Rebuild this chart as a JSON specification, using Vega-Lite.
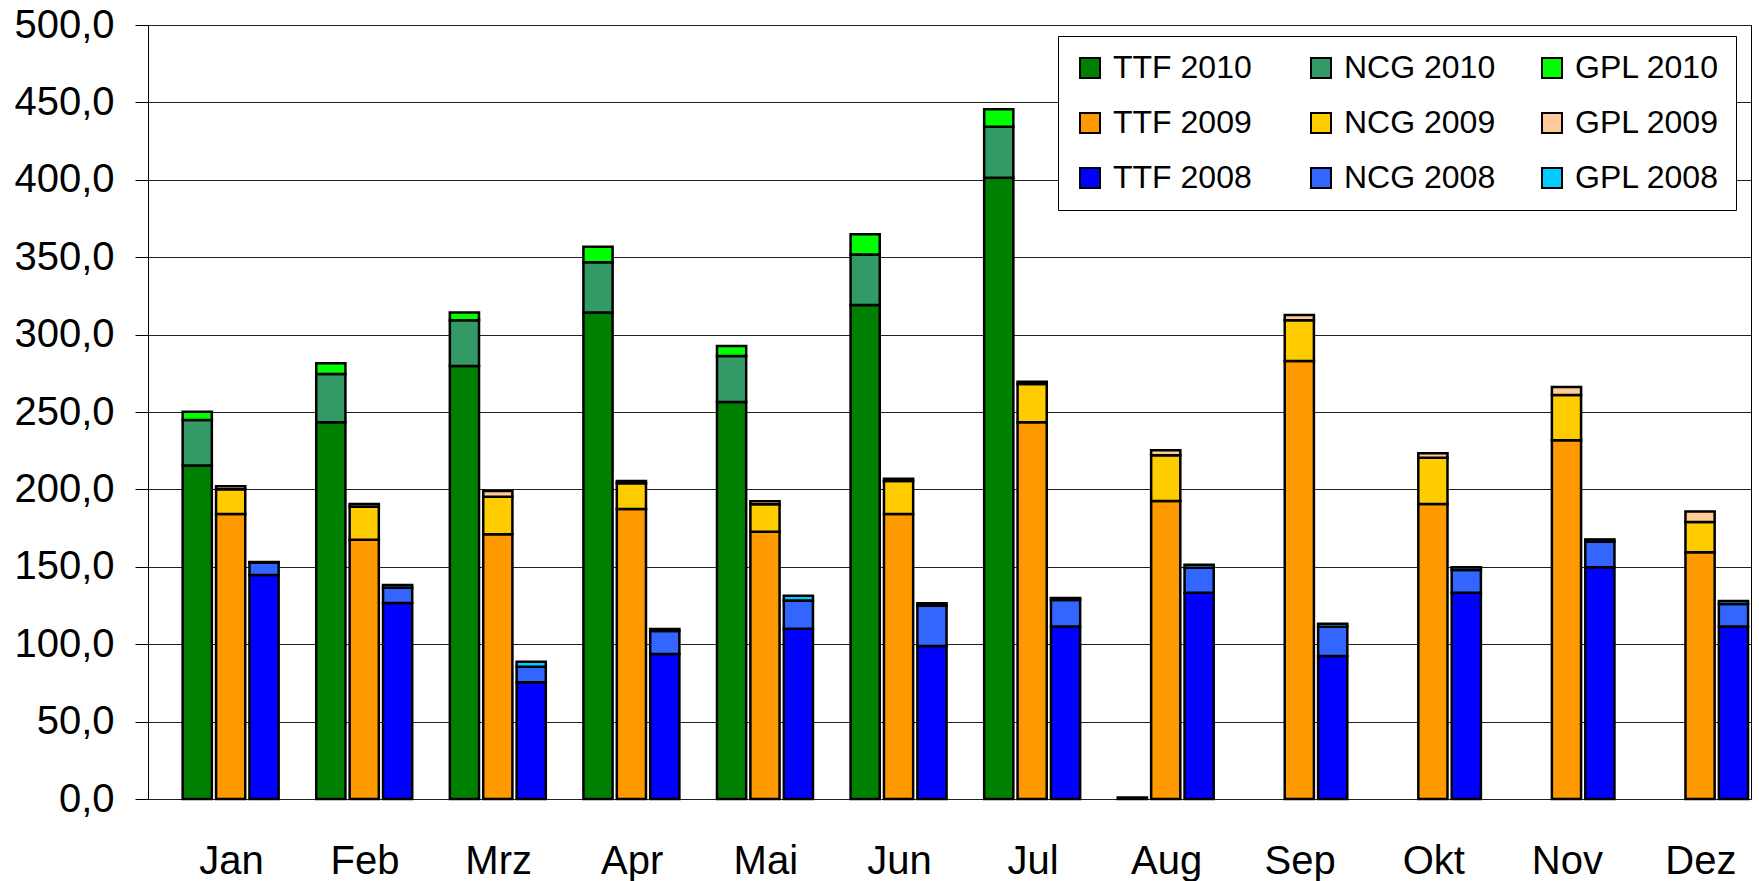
{
  "$schema": "https://vega.github.io/schema/vega-lite/v6.json",
  "width": 1603,
  "height": 774,
  "autosize": {"type": "none"},
  "padding": {"left": 148, "top": 25, "right": 8, "bottom": 82},
  "background": "#ffffff",
  "data": {"values": [
    {"month": "Jan", "year": "2010", "hub": "TTF", "series": "TTF 2010", "value": 215.5},
    {"month": "Jan", "year": "2010", "hub": "NCG", "series": "NCG 2010", "value": 29.3},
    {"month": "Jan", "year": "2010", "hub": "GPL", "series": "GPL 2010", "value": 5.4},
    {"month": "Jan", "year": "2009", "hub": "TTF", "series": "TTF 2009", "value": 184.1},
    {"month": "Jan", "year": "2009", "hub": "NCG", "series": "NCG 2009", "value": 16.0},
    {"month": "Jan", "year": "2009", "hub": "GPL", "series": "GPL 2009", "value": 1.9},
    {"month": "Jan", "year": "2008", "hub": "TTF", "series": "TTF 2008", "value": 144.7},
    {"month": "Jan", "year": "2008", "hub": "NCG", "series": "NCG 2008", "value": 8.0},
    {"month": "Jan", "year": "2008", "hub": "GPL", "series": "GPL 2008", "value": 0.4},
    {"month": "Feb", "year": "2010", "hub": "TTF", "series": "TTF 2010", "value": 243.3},
    {"month": "Feb", "year": "2010", "hub": "NCG", "series": "NCG 2010", "value": 31.2},
    {"month": "Feb", "year": "2010", "hub": "GPL", "series": "GPL 2010", "value": 7.0},
    {"month": "Feb", "year": "2009", "hub": "TTF", "series": "TTF 2009", "value": 167.5},
    {"month": "Feb", "year": "2009", "hub": "NCG", "series": "NCG 2009", "value": 21.3},
    {"month": "Feb", "year": "2009", "hub": "GPL", "series": "GPL 2009", "value": 1.8},
    {"month": "Feb", "year": "2008", "hub": "TTF", "series": "TTF 2008", "value": 126.6},
    {"month": "Feb", "year": "2008", "hub": "NCG", "series": "NCG 2008", "value": 9.9},
    {"month": "Feb", "year": "2008", "hub": "GPL", "series": "GPL 2008", "value": 1.7},
    {"month": "Mrz", "year": "2010", "hub": "TTF", "series": "TTF 2010", "value": 279.7},
    {"month": "Mrz", "year": "2010", "hub": "NCG", "series": "NCG 2010", "value": 29.5},
    {"month": "Mrz", "year": "2010", "hub": "GPL", "series": "GPL 2010", "value": 5.0},
    {"month": "Mrz", "year": "2009", "hub": "TTF", "series": "TTF 2009", "value": 171.0},
    {"month": "Mrz", "year": "2009", "hub": "NCG", "series": "NCG 2009", "value": 24.3},
    {"month": "Mrz", "year": "2009", "hub": "GPL", "series": "GPL 2009", "value": 3.7},
    {"month": "Mrz", "year": "2008", "hub": "TTF", "series": "TTF 2008", "value": 75.4},
    {"month": "Mrz", "year": "2008", "hub": "NCG", "series": "NCG 2008", "value": 10.1},
    {"month": "Mrz", "year": "2008", "hub": "GPL", "series": "GPL 2008", "value": 3.2},
    {"month": "Apr", "year": "2010", "hub": "TTF", "series": "TTF 2010", "value": 314.2},
    {"month": "Apr", "year": "2010", "hub": "NCG", "series": "NCG 2010", "value": 32.5},
    {"month": "Apr", "year": "2010", "hub": "GPL", "series": "GPL 2010", "value": 10.1},
    {"month": "Apr", "year": "2009", "hub": "TTF", "series": "TTF 2009", "value": 187.3},
    {"month": "Apr", "year": "2009", "hub": "NCG", "series": "NCG 2009", "value": 16.6},
    {"month": "Apr", "year": "2009", "hub": "GPL", "series": "GPL 2009", "value": 1.5},
    {"month": "Apr", "year": "2008", "hub": "TTF", "series": "TTF 2008", "value": 93.7},
    {"month": "Apr", "year": "2008", "hub": "NCG", "series": "NCG 2008", "value": 14.8},
    {"month": "Apr", "year": "2008", "hub": "GPL", "series": "GPL 2008", "value": 1.3},
    {"month": "Mai", "year": "2010", "hub": "TTF", "series": "TTF 2010", "value": 256.4},
    {"month": "Mai", "year": "2010", "hub": "NCG", "series": "NCG 2010", "value": 29.8},
    {"month": "Mai", "year": "2010", "hub": "GPL", "series": "GPL 2010", "value": 6.4},
    {"month": "Mai", "year": "2009", "hub": "TTF", "series": "TTF 2009", "value": 172.7},
    {"month": "Mai", "year": "2009", "hub": "NCG", "series": "NCG 2009", "value": 17.7},
    {"month": "Mai", "year": "2009", "hub": "GPL", "series": "GPL 2009", "value": 1.9},
    {"month": "Mai", "year": "2008", "hub": "TTF", "series": "TTF 2008", "value": 110.0},
    {"month": "Mai", "year": "2008", "hub": "NCG", "series": "NCG 2008", "value": 18.3},
    {"month": "Mai", "year": "2008", "hub": "GPL", "series": "GPL 2008", "value": 3.0},
    {"month": "Jun", "year": "2010", "hub": "TTF", "series": "TTF 2010", "value": 319.1},
    {"month": "Jun", "year": "2010", "hub": "NCG", "series": "NCG 2010", "value": 32.7},
    {"month": "Jun", "year": "2010", "hub": "GPL", "series": "GPL 2010", "value": 13.0},
    {"month": "Jun", "year": "2009", "hub": "TTF", "series": "TTF 2009", "value": 184.1},
    {"month": "Jun", "year": "2009", "hub": "NCG", "series": "NCG 2009", "value": 21.3},
    {"month": "Jun", "year": "2009", "hub": "GPL", "series": "GPL 2009", "value": 1.5},
    {"month": "Jun", "year": "2008", "hub": "TTF", "series": "TTF 2008", "value": 98.8},
    {"month": "Jun", "year": "2008", "hub": "NCG", "series": "NCG 2008", "value": 26.1},
    {"month": "Jun", "year": "2008", "hub": "GPL", "series": "GPL 2008", "value": 1.5},
    {"month": "Jul", "year": "2010", "hub": "TTF", "series": "TTF 2010", "value": 401.4},
    {"month": "Jul", "year": "2010", "hub": "NCG", "series": "NCG 2010", "value": 32.9},
    {"month": "Jul", "year": "2010", "hub": "GPL", "series": "GPL 2010", "value": 11.2},
    {"month": "Jul", "year": "2009", "hub": "TTF", "series": "TTF 2009", "value": 243.3},
    {"month": "Jul", "year": "2009", "hub": "NCG", "series": "NCG 2009", "value": 24.8},
    {"month": "Jul", "year": "2009", "hub": "GPL", "series": "GPL 2009", "value": 1.5},
    {"month": "Jul", "year": "2008", "hub": "TTF", "series": "TTF 2008", "value": 111.5},
    {"month": "Jul", "year": "2008", "hub": "NCG", "series": "NCG 2008", "value": 17.1},
    {"month": "Jul", "year": "2008", "hub": "GPL", "series": "GPL 2008", "value": 1.2},
    {"month": "Aug", "year": "2010", "hub": "TTF", "series": "TTF 2010", "value": 1.0},
    {"month": "Aug", "year": "2009", "hub": "TTF", "series": "TTF 2009", "value": 192.5},
    {"month": "Aug", "year": "2009", "hub": "NCG", "series": "NCG 2009", "value": 29.5},
    {"month": "Aug", "year": "2009", "hub": "GPL", "series": "GPL 2009", "value": 3.3},
    {"month": "Aug", "year": "2008", "hub": "TTF", "series": "TTF 2008", "value": 133.3},
    {"month": "Aug", "year": "2008", "hub": "NCG", "series": "NCG 2008", "value": 16.1},
    {"month": "Aug", "year": "2008", "hub": "GPL", "series": "GPL 2008", "value": 2.0},
    {"month": "Sep", "year": "2009", "hub": "TTF", "series": "TTF 2009", "value": 282.9},
    {"month": "Sep", "year": "2009", "hub": "NCG", "series": "NCG 2009", "value": 26.3},
    {"month": "Sep", "year": "2009", "hub": "GPL", "series": "GPL 2009", "value": 3.5},
    {"month": "Sep", "year": "2008", "hub": "TTF", "series": "TTF 2008", "value": 92.4},
    {"month": "Sep", "year": "2008", "hub": "NCG", "series": "NCG 2008", "value": 18.9},
    {"month": "Sep", "year": "2008", "hub": "GPL", "series": "GPL 2008", "value": 1.9},
    {"month": "Okt", "year": "2009", "hub": "TTF", "series": "TTF 2009", "value": 190.6},
    {"month": "Okt", "year": "2009", "hub": "NCG", "series": "NCG 2009", "value": 29.9},
    {"month": "Okt", "year": "2009", "hub": "GPL", "series": "GPL 2009", "value": 2.8},
    {"month": "Okt", "year": "2008", "hub": "TTF", "series": "TTF 2008", "value": 133.3},
    {"month": "Okt", "year": "2008", "hub": "NCG", "series": "NCG 2008", "value": 14.6},
    {"month": "Okt", "year": "2008", "hub": "GPL", "series": "GPL 2008", "value": 1.8},
    {"month": "Nov", "year": "2009", "hub": "TTF", "series": "TTF 2009", "value": 231.7},
    {"month": "Nov", "year": "2009", "hub": "NCG", "series": "NCG 2009", "value": 29.3},
    {"month": "Nov", "year": "2009", "hub": "GPL", "series": "GPL 2009", "value": 5.1},
    {"month": "Nov", "year": "2008", "hub": "TTF", "series": "TTF 2008", "value": 149.7},
    {"month": "Nov", "year": "2008", "hub": "NCG", "series": "NCG 2008", "value": 16.5},
    {"month": "Nov", "year": "2008", "hub": "GPL", "series": "GPL 2008", "value": 1.5},
    {"month": "Dez", "year": "2009", "hub": "TTF", "series": "TTF 2009", "value": 159.4},
    {"month": "Dez", "year": "2009", "hub": "NCG", "series": "NCG 2009", "value": 19.5},
    {"month": "Dez", "year": "2009", "hub": "GPL", "series": "GPL 2009", "value": 6.9},
    {"month": "Dez", "year": "2008", "hub": "TTF", "series": "TTF 2008", "value": 111.5},
    {"month": "Dez", "year": "2008", "hub": "NCG", "series": "NCG 2008", "value": 14.5},
    {"month": "Dez", "year": "2008", "hub": "GPL", "series": "GPL 2008", "value": 1.9}
  ]},
  "mark": {"type": "bar", "stroke": "#000000", "strokeWidth": 2.5, "opacity": 1},
  "encoding": {
    "x": {
      "field": "month",
      "type": "nominal",
      "sort": ["Jan", "Feb", "Mrz", "Apr", "Mai", "Jun", "Jul", "Aug", "Sep", "Okt", "Nov", "Dez"],
      "scale": {
        "domain": ["Jan", "Feb", "Mrz", "Apr", "Mai", "Jun", "Jul", "Aug", "Sep", "Okt", "Nov", "Dez"],
        "paddingInner": 0.25,
        "paddingOuter": 0.125,
        "align": 1
      },
      "axis": {
        "title": null,
        "labelAngle": 0,
        "labelFont": "Liberation Sans",
        "labelFontSize": 40,
        "labelColor": "#000000",
        "labelPadding": 42,
        "ticks": false,
        "tickSize": 0,
        "domain": false,
        "grid": false
      }
    },
    "xOffset": {
      "field": "year",
      "type": "nominal",
      "scale": {"domain": ["2010", "2009", "2008"], "paddingInner": 0.126, "paddingOuter": 0.063, "align": 0.3}
    },
    "y": {
      "field": "value",
      "type": "quantitative",
      "stack": "zero",
      "scale": {"domain": [0, 500], "nice": false, "zero": true},
      "axis": {
        "title": null,
        "values": [0, 50, 100, 150, 200, 250, 300, 350, 400, 450, 500],
        "labelExpr": "replace(format(datum.value, '.1f'), '.', ',')",
        "labelFont": "Liberation Sans",
        "labelFontSize": 40,
        "labelColor": "#000000",
        "labelPadding": 21,
        "tickSize": 13,
        "tickColor": "#000000",
        "domainColor": "#000000",
        "grid": true,
        "gridColor": "#222222",
        "gridOpacity": 1
      }
    },
    "color": {
      "field": "series",
      "type": "nominal",
      "scale": {
        "domain": ["TTF 2010", "NCG 2010", "GPL 2010", "TTF 2009", "NCG 2009", "GPL 2009", "TTF 2008", "NCG 2008", "GPL 2008"],
        "range": ["#008000", "#339966", "#00FF00", "#FF9900", "#FFCC00", "#FFCC99", "#0000FF", "#3366FF", "#00CCFF"]
      },
      "legend": {
        "title": null,
        "orient": "none",
        "legendX": 910,
        "legendY": 11,
        "columns": 3,
        "direction": "horizontal",
        "gridAlign": "all",
        "symbolType": "square",
        "symbolSize": 400,
        "symbolStrokeColor": "#000000",
        "symbolStrokeWidth": 2,
        "symbolOpacity": 1,
        "labelFont": "Liberation Sans",
        "labelFontSize": 32,
        "labelColor": "#000000",
        "labelOffset": 7,
        "labelLimit": 0,
        "columnPadding": 40,
        "rowPadding": 23,
        "padding": 16,
        "strokeColor": "#000000",
        "fillColor": "#ffffff"
      }
    },
    "order": {"field": "hub", "sort": "descending"}
  },
  "config": {
    "font": "Liberation Sans",
    "view": {"stroke": "#000000", "strokeWidth": 1}
  }
}
